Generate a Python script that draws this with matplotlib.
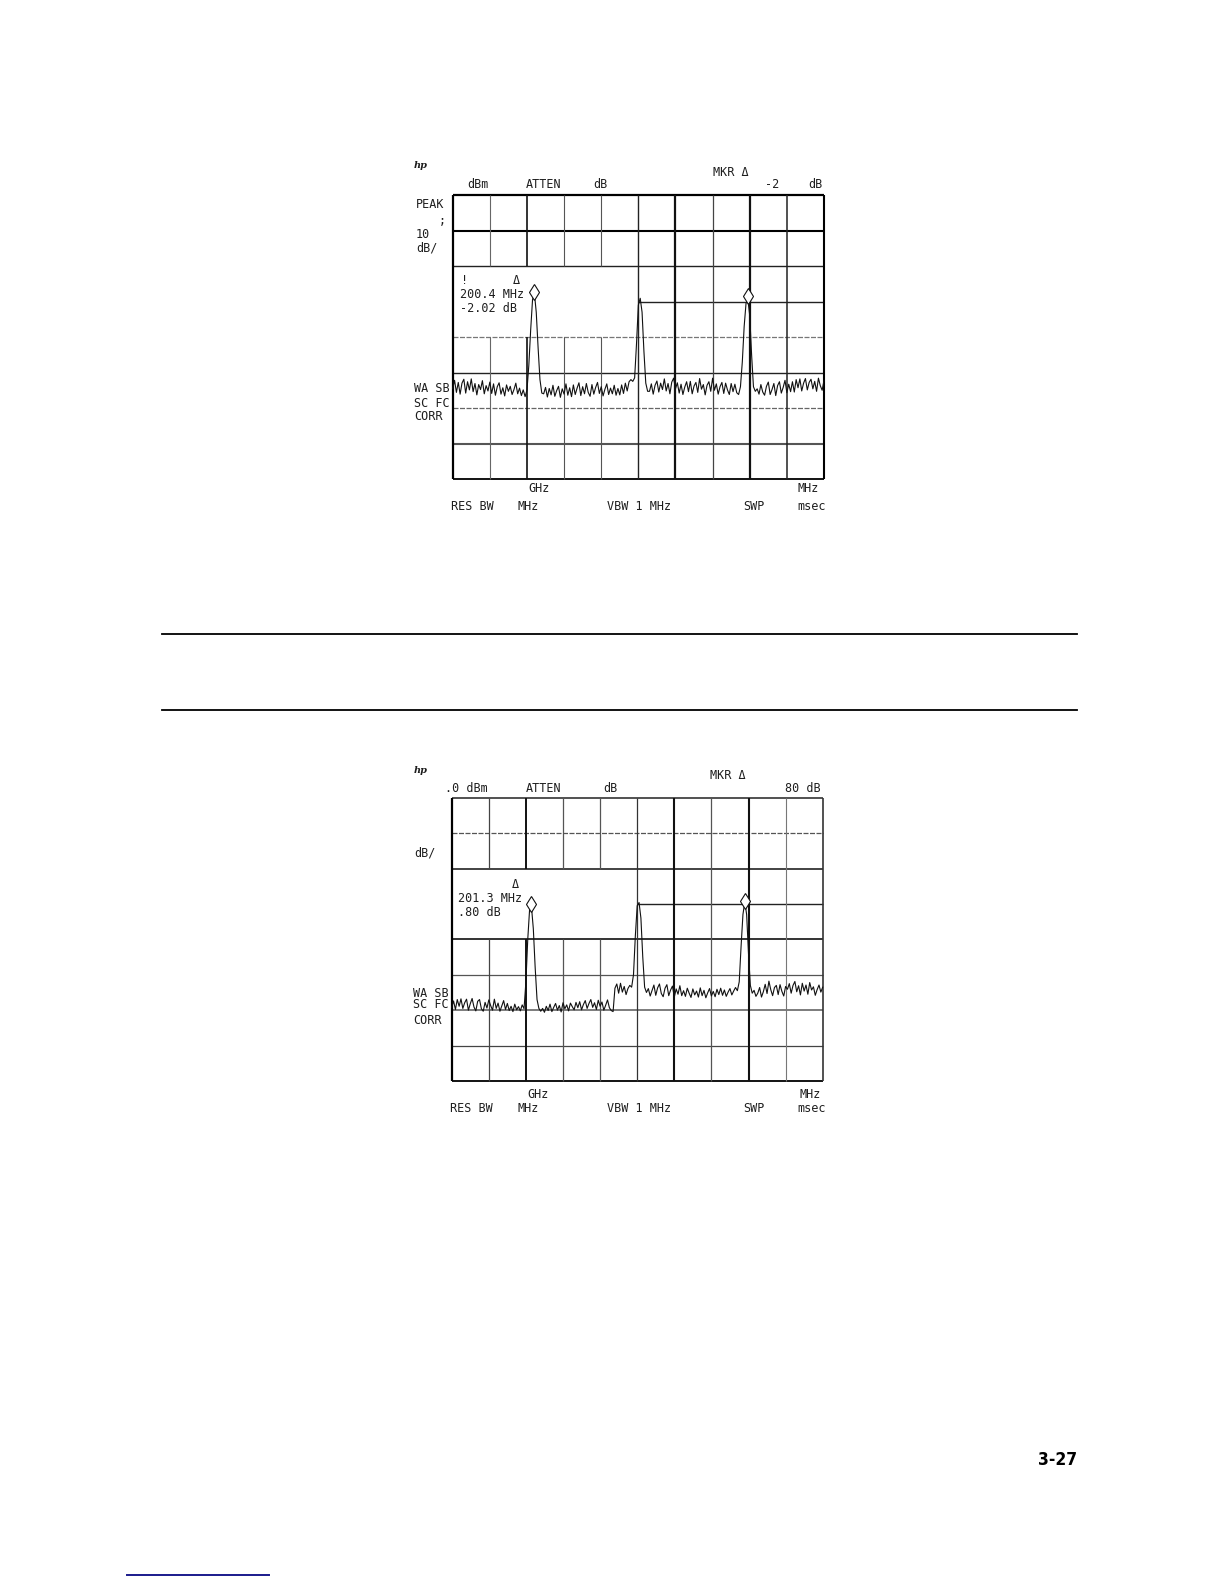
import numpy as np
import matplotlib
matplotlib.use("Agg")
import matplotlib.pyplot as plt
from matplotlib.lines import Line2D

# ---------------- data (amplitude in dB, 10 dB/div, reference 0 dB at top) -------------
top_trace = (
    [-54.5, -52.2, -55.6, -52.8, -56.1, -53.0, -51.9, -55.8, -52.6, -54.9,
     -51.8, -55.4, -53.1, -56.3, -53.4, -54.8, -52.3, -56.0, -53.7, -55.2]
    + [-52.7, -55.9, -53.2, -56.4, -54.0, -52.9, -56.1, -54.3, -56.6, -53.5,
       -55.3, -53.9, -56.2, -54.8, -53.0, -56.0, -54.4, -56.5, -54.9, -56.8]
    + [-55.0, -48.0, -38.0, -29.5, -27.7, -33.0, -43.0, -52.0, -55.8]
    + [-56.0, -54.2, -56.9, -54.5, -56.3, -53.6, -56.7, -55.1, -53.9, -57.0,
       -54.6, -56.1, -53.2, -56.4, -54.3, -56.8, -53.5, -56.2, -54.4, -52.9]
    + [-56.5, -54.0, -56.0, -53.1, -55.6, -56.7, -53.4, -56.1, -54.2, -52.8,
       -55.9, -54.0, -56.6, -54.7, -53.2, -56.2, -54.4, -56.0, -53.6, -56.4]
    + [-54.5, -56.3, -53.5, -55.9, -53.0, -55.2, -52.6, -52.0]
    + [-52.5, -51.5, -42.0, -31.0, -29.1, -33.0, -44.0, -53.0, -55.3]
    + [-55.3, -53.2, -56.1, -53.6, -52.4, -55.5, -53.0, -54.8, -51.8, -55.2,
       -53.1, -56.0, -52.7, -51.6, -54.6, -52.9, -55.8, -53.3, -56.2, -54.1]
    + [-52.6, -55.4, -52.5, -56.0, -53.8, -52.8, -55.6, -51.7, -54.7, -53.4,
       -56.3, -53.6, -52.6, -55.3, -51.6, -55.0, -53.2, -56.1, -54.0, -52.8]
    + [-55.9, -53.0, -54.9, -56.2, -53.1, -55.4, -53.3, -55.7, -56.2]
    + [-54.0, -47.0, -37.0, -30.5, -29.4, -34.0, -45.0, -54.0, -55.3]
    + [-54.6, -56.1, -53.4, -55.5, -56.4, -53.9, -52.7, -56.2, -54.8, -53.1,
       -56.5, -53.7, -52.6, -55.8, -54.2, -52.2, -55.7, -53.3, -55.4, -52.6]
    + [-55.5, -52.0, -54.3, -51.8, -55.2, -53.0, -51.7, -54.9, -52.8, -51.9,
       -54.6, -52.5, -55.3, -51.6, -53.7, -55.0, -52.2]
)

bot_trace = (
    [-59.2, -57.4, -59.8, -57.0, -58.9, -56.8, -59.5, -57.9, -56.9, -60.0,
     -58.2, -56.7, -59.1, -60.2, -57.5, -57.0, -59.6, -60.3, -57.8, -59.4]
    + [-57.1, -58.7, -60.0, -56.9, -59.5, -58.0, -60.3, -58.8, -57.3, -59.8,
       -58.1, -60.1, -58.9, -60.4, -58.3, -59.9, -59.0, -60.2, -58.5, -59.6]
    + [-52.0, -40.0, -31.5, -30.8, -37.0, -48.0, -57.0, -59.5]
    + [-60.3, -59.5, -60.6, -58.9, -60.1, -58.3, -60.4, -59.2, -58.1, -60.0,
       -58.7, -60.5, -57.9, -59.6, -58.5, -60.2, -58.0, -59.0, -59.9, -57.8]
    + [-59.3, -57.6, -59.9, -58.4, -57.3, -59.5, -58.1, -57.0, -59.2, -57.9,
       -59.8, -57.2, -58.9, -57.7, -60.0, -58.6, -57.1, -59.3, -60.1, -60.4]
    + [-53.8, -52.6, -55.2, -52.4, -54.9, -53.3, -55.6, -53.9, -53.0]
    + [-53.5, -50.0, -39.0, -30.5, -29.6, -34.0, -45.0, -53.5, -55.0]
    + [-53.9, -56.0, -54.4, -52.9, -55.8, -53.7, -52.6, -55.3, -56.2, -53.8,
       -52.8, -55.9, -54.3, -53.2, -56.3, -54.0, -55.5, -53.1, -55.9, -54.5]
    + [-56.1, -53.8, -55.2, -56.4, -54.0, -55.7, -54.6, -56.3, -53.7, -55.9,
       -54.4, -56.5, -55.1, -53.9, -56.0, -54.7, -56.2, -54.1, -55.6, -53.8]
    + [-55.8, -54.3, -56.1, -54.9, -53.9, -55.7, -54.6, -53.6]
    + [-54.5, -52.0, -42.0, -33.0, -29.4, -33.0, -44.0, -53.0, -55.2]
    + [-54.4, -56.1, -55.2, -53.6, -56.3, -54.8, -52.7, -55.3, -51.8, -54.2,
       -55.9, -53.6, -53.0, -55.6, -52.8, -54.7, -56.0, -53.3, -54.1, -52.5]
    + [-55.2, -53.0, -51.9, -54.8, -53.1, -55.7, -52.4, -54.6, -52.9, -55.5,
       -52.2, -54.3, -53.4, -55.8, -54.2, -52.9, -54.9, -53.5]
)

# marker diamonds (division, dB)
top_mkr_x = [2.19, 7.94]
top_mkr_db = [-27.2, -28.5]
bot_mkr_x = [2.13, 7.91]
bot_mkr_db = [-30.1, -29.2]

# annotation texts
top_texts = ["MKR \u0394", "dBm", "ATTEN", "dB", "-2", "dB", "PEAK", ";", "10", "dB/",
             "!", "\u0394", "200.4 MHz", "-2.02 dB", "WA SB", "SC FC", "CORR",
             "GHz", "MHz", "RES BW", "MHz", "VBW 1 MHz", "SWP", "msec"]
bot_texts = ["MKR \u0394", ".0 dBm", "ATTEN", "dB", "80 dB", "dB/",
             "\u0394", "201.3 MHz", ".80 dB", "WA SB", "SC FC", "CORR",
             "GHz", "MHz", "RES BW", "MHz", "VBW 1 MHz", "SWP", "msec"]
page_number = "3-27"

# ---------------- layout (pixels) ----------------
W, H = 1224, 1584
top_pos = [(713, 172), (467, 185), (526, 185), (593, 185), (765, 185), (808, 185),
           (416, 204), (439, 220), (416, 234), (416, 248),
           (461, 281), (513, 281), (460, 294), (460, 309),
           (414, 388), (414, 404), (414, 417),
           (528, 489), (798, 489), (451, 507), (518, 507), (607, 507), (743, 507), (797, 507)]
bot_pos = [(710, 776), (445, 789), (526, 789), (603, 789), (785, 789), (414, 853),
           (512, 884), (458, 898), (458, 913),
           (413, 993), (413, 1004), (413, 1021),
           (527, 1095), (800, 1095), (450, 1109), (518, 1109), (607, 1109), (743, 1109), (797, 1109)]

fig = plt.figure(figsize=(W / 100, H / 100), dpi=100)
fig.patch.set_facecolor("white")


def T(x, y, s, ha="left", fs=8.5, family="DejaVu Sans Mono", color="#1e1e1e", **kw):
    fig.text(x / W, 1 - y / H, s, ha=ha, va="center", fontsize=fs,
             family=family, color=color, **kw)


def ax_at(x0, y0, x1, y1):
    ax = fig.add_axes([x0 / W, 1 - y1 / H, (x1 - x0) / W, (y1 - y0) / H])
    ax.set_xlim(0, 10)
    ax.set_ylim(-80, 0)
    ax.axis("off")
    return ax


SOLID = (0, ())
DASH = (0, (4, 1.2))
# styles per grid line: (colour, width, linestyle)
top_h = [("black", 1.6, SOLID), ("black", 1.5, SOLID), ("#222", 1.0, SOLID), ("#222", 1.0, SOLID),
         ("#777", 0.9, DASH), ("#222", 1.0, SOLID), ("#666", 0.9, DASH), ("#555", 1.5, SOLID),
         ("black", 1.3, SOLID)]
top_v = [("black", 1.6, SOLID), ("#666", 0.8, SOLID), ("#111", 1.2, SOLID), ("#555", 0.8, SOLID),
         ("#555", 0.8, SOLID), ("#222", 1.0, SOLID), ("#111", 1.6, SOLID), ("#444", 0.9, SOLID),
         ("#111", 1.6, SOLID), ("#222", 1.1, SOLID), ("black", 1.5, SOLID)]
bot_h = [("#333", 1.2, SOLID), ("#555", 0.9, DASH), ("#222", 1.2, SOLID), ("#222", 1.0, SOLID),
         ("#333", 1.4, SOLID), ("#555", 0.9, SOLID), ("#666", 1.2, SOLID), ("#444", 0.9, SOLID),
         ("black", 1.3, SOLID)]
bot_v = [("black", 1.6, SOLID), ("#444", 0.9, SOLID), ("#111", 1.4, SOLID), ("#555", 0.9, SOLID),
         ("#555", 0.9, SOLID), ("#333", 0.9, SOLID), ("#111", 1.5, SOLID), ("#555", 0.9, SOLID),
         ("#111", 1.5, SOLID), ("#777", 0.8, SOLID), ("#333", 1.2, SOLID)]


def draw_grid(ax, hst, vst, blank=(0, 5, -20, -40)):
    bx0, bx1, by0, by1 = blank
    for k, (c, lw, ls) in enumerate(hst):
        y = -10 * k
        if by1 < y < by0:
            ax.plot([bx1, 10], [y, y], color=c, lw=lw, ls=ls, clip_on=False)
        else:
            ax.plot([0, 10], [y, y], color=c, lw=lw, ls=ls, clip_on=False)
    for k, (c, lw, ls) in enumerate(vst):
        x = k
        if bx0 < x < bx1:
            ax.plot([x, x], [-80, by1], color=c, lw=lw, ls=ls, clip_on=False)
            ax.plot([x, x], [by0, 0], color=c, lw=lw, ls=ls, clip_on=False)
        else:
            ax.plot([x, x], [-80, 0], color=c, lw=lw, ls=ls, clip_on=False)


def draw_chart(ax, trace, mx, my, hst, vst):
    draw_grid(ax, hst, vst)
    sweep = np.linspace(0, 10, len(trace))
    ax.plot(sweep, trace, color="#111", lw=0.8, clip_on=False, zorder=5)
    ax.plot(mx, my, ls="none", marker="d", ms=8, mfc="white", mec="#111",
            mew=0.8, zorder=6, clip_on=False)


ax1 = ax_at(452.7, 195, 824, 479)
draw_chart(ax1, top_trace, top_mkr_x, top_mkr_db, top_h, top_v)
ax2 = ax_at(451.7, 797.7, 822.7, 1081)
draw_chart(ax2, bot_trace, bot_mkr_x, bot_mkr_db, bot_h, bot_v)

for s, (x, y) in zip(top_texts, top_pos):
    T(x, y, s)
for s, (x, y) in zip(bot_texts, bot_pos):
    T(x, y, s)

# hp logos
T(421, 166, "hp", ha="center", fs=7, family="DejaVu Serif", style="italic", weight="bold")
T(421, 770, "hp", ha="center", fs=7, family="DejaVu Serif", style="italic", weight="bold")

# page rules
for yy in (634, 710):
    fig.add_artist(Line2D([162 / W, 1077 / W], [1 - yy / H, 1 - yy / H], color="black", lw=1.3))

# page number
T(1077, 1460, page_number, ha="right", fs=12.5, family=["Liberation Sans Narrow", "DejaVu Sans"],
  color="black", weight="bold", fontstretch="condensed")

# link underline at the bottom
fig.add_artist(Line2D([127 / W, 269 / W], [1 - 1575 / H, 1 - 1575 / H], color="#1a1a8c", lw=1.4))

fig.savefig("out.png", dpi=100, facecolor="white")
